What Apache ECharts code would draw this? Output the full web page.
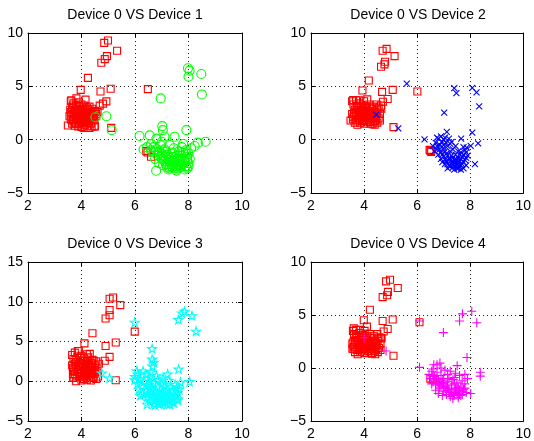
<!DOCTYPE html>
<html>
<head>
<meta charset="utf-8">
<script src="https://cdn.jsdelivr.net/npm/echarts@6/dist/echarts.min.js"></script>
<style>html,body{margin:0;padding:0;background:#fff}#c{width:534px;height:441px}</style>
</head>
<body>
<div id="c"></div>
<script>
// ---- titles & ticks ----
var titles = ['Device 0 VS Device 1', 'Device 0 VS Device 2', 'Device 0 VS Device 3', 'Device 0 VS Device 4'];
var xTicks = [2, 4, 6, 8, 10];
var yRanges = [[-5, 10], [-5, 10], [-5, 15], [-5, 10]];

// ---- Panel 1 ----
var dev0_p1 = [
[4.99,9.29],[4.85,9.07],[5.33,8.33],[4.95,7.83],[4.87,7.55],[4.74,7.21],[4.24,5.79],[5.09,4.77],[4.71,4.52],[3.97,4.67],
[6.48,4.74],[4.93,3.59],[4.15,3.75],[3.81,3.87],[3.62,3.69],[4.68,3.19],[4.80,3.38],[4.55,2.40],[5.11,1.11],[3.49,1.33],
[4.49,1.21],[6.42,-1.07],[6.47,-1.2],[6.6,-1.6],
[3.6,3.6],[3.7,3.4],[3.65,3.0],[3.8,3.2],[3.75,2.8],[3.9,3.1],[3.6,2.6],[3.7,2.4],[3.8,2.5],[3.85,2.2],
[3.95,2.7],[4.0,2.4],[4.05,2.9],[4.1,2.6],[4.15,2.2],[4.2,2.5],[4.25,2.8],[4.3,2.3],[4.35,2.6],[4.4,2.9],
[4.45,2.4],[4.5,2.7],[4.55,2.2],[4.2,3.0],[4.3,3.1],[4.1,3.2],[3.9,3.5],[4.0,3.3],[3.55,2.2],[3.6,1.9],
[3.7,1.7],[3.8,1.9],[3.9,1.8],[4.0,2.0],[4.1,1.9],[4.2,1.7],[4.3,1.9],[4.4,2.0],[3.65,1.5],[3.75,1.3],
[3.9,1.5],[4.0,1.2],[4.1,1.4],[4.2,1.3],[4.3,1.1],[4.35,1.5],[3.85,2.9],[3.7,2.1],[3.95,2.3],[4.05,1.6],
[4.25,2.0],[4.45,1.8],[3.58,2.8],[3.68,3.2],[4.0,2.8],[4.15,2.8],[4.35,2.1],[4.5,1.3],[3.8,1.6],[4.6,2.6],
[4.1,2.1],[3.95,2.0],[3.63,2.35],[3.73,2.65],[3.83,2.05],[3.93,2.45],[4.03,2.15],[4.13,2.35],[4.23,2.15],[4.33,2.45],
[4.43,2.2],[3.78,1.45],[3.88,1.25],[4.08,1.1],[4.18,1.55],[4.28,1.6],[3.68,1.85],[4.38,1.25],[3.98,1.7],[4.48,2.05]
];
var dev1 = [
[7.98,6.69],[8.04,6.47],[8.00,5.91],[8.48,6.16],[8.50,4.24],[6.96,3.87],[4.93,2.20],[4.52,2.10],[5.13,0.89],[7.02,1.27],
[7.04,0.89],[7.92,0.89],[6.17,0.34],[7.48,0.28],[8.64,-0.19],[8.23,-0.59],[8.35,-0.28],[6.32,-0.9],[6.79,-2.91],
[6.6,-0.4],[6.7,-0.7],[6.8,-0.9],[6.9,-1.1],[6.7,-1.2],[6.85,-1.5],[7.0,-1.3],[7.0,-1.8],[7.1,-2.0],[7.15,-1.6],
[7.2,-2.3],[7.3,-2.1],[7.3,-2.5],[7.4,-1.9],[7.4,-2.6],[7.5,-2.2],[7.5,-2.7],[7.6,-2.4],[7.6,-1.8],[7.7,-2.6],
[7.7,-2.1],[7.75,-1.5],[7.8,-2.3],[7.8,-1.2],[7.85,-1.9],[7.9,-2.5],[7.9,-1.0],[7.95,-1.6],[8.0,-2.2],[8.0,-1.3],
[7.2,-1.4],[7.1,-0.9],[6.95,-0.5],[7.05,-2.4],[7.35,-1.3],[7.55,-1.5],[7.65,-1.1],[7.45,-0.8],[6.6,-1.0],[6.75,-1.8],
[6.9,-2.2],[7.25,-2.8],[7.55,-2.9],[7.0,-0.2],[6.8,0.1],[6.55,0.4],[7.1,0.3],[7.3,-0.5],[7.75,-0.7],[7.95,-2.7],
[8.05,-1.8],[7.85,-2.8],[7.35,-1.7],[7.45,-2.3],[7.65,-2.0],[7.25,-1.9],[7.15,-1.1],[6.45,-0.7],[7.8,-0.4],[8.1,-0.8],
[7.05,-1.5],[7.15,-2.3],[7.25,-1.6],[7.35,-2.3],[7.45,-2.0],[7.55,-2.5],[7.65,-2.3],[7.75,-2.4],[7.85,-2.1],[7.95,-1.9],
[7.45,-1.6],[7.6,-2.7],[7.7,-1.8],[7.3,-2.7],[7.4,-1.2],[6.95,-1.6],[6.85,-1.2],[7.2,-2.6],[7.9,-1.3],[8.0,-2.5]
];

// ---- Panel 2 ----
var dev0_p2 = [
[4.85,8.51],[4.70,8.33],[4.79,7.31],[4.77,7.06],[4.64,6.84],[5.15,7.83],[4.18,5.54],[6.01,4.52],[5.08,4.67],[4.68,4.48],
[3.94,4.61],[4.89,3.81],[4.71,3.56],[4.64,3.19],[5.11,1.18],[3.59,3.72],[4.12,3.78],[3.49,1.80],[6.47,-0.96],[6.53,-1.15],[6.5,-1.05],
[3.55,3.6],[3.6,3.3],[3.7,3.7],[3.75,3.0],[3.65,2.8],[3.8,3.4],[3.85,2.6],[3.9,3.2],[3.95,2.9],[4.0,3.6],
[4.05,2.4],[4.1,3.0],[4.15,2.7],[4.2,3.3],[4.25,2.5],[4.3,2.9],[4.35,3.1],[4.4,2.6],[4.45,2.2],[4.5,2.8],
[4.55,3.0],[4.6,2.4],[3.55,2.4],[3.6,2.1],[3.7,1.8],[3.75,2.3],[3.8,2.0],[3.85,1.6],[3.9,2.2],[3.95,1.9],
[4.0,1.5],[4.05,2.1],[4.1,1.7],[4.15,2.3],[4.2,1.9],[4.25,1.5],[4.3,2.1],[4.35,1.7],[4.4,1.4],[4.45,1.9],
[4.5,1.6],[4.55,2.0],[3.65,1.6],[3.75,1.4],[4.6,1.8],[4.0,2.6],[3.9,2.7],[4.2,2.1],[3.7,2.6],[4.1,2.5],
[4.35,2.4],[3.58,1.9],[4.65,2.9],[4.48,3.3],[3.82,3.7],
[3.68,2.25],[3.78,2.75],[3.88,2.35],[3.98,2.25],[4.08,2.75],[4.18,2.45],[4.28,2.25],[4.38,2.05],[4.48,2.45],[3.72,3.15],
[3.92,1.75],[4.02,1.85],[4.12,2.05],[4.22,1.65],[4.32,1.45],[4.42,1.75],[3.82,1.85],[3.62,2.55],[4.05,3.1],[4.25,2.95]
];
var dev2 = [
[5.61,5.26],[5.29,1.05],[4.46,2.35],[7.40,4.83],[7.48,4.37],[8.08,4.86],[8.24,4.43],[8.34,3.13],[7.02,2.54],[7.12,0.74],
[7.66,0.09],[8.08,0.65],[8.30,-0.34],[8.18,-2.29],[6.28,0.03],[8.02,-0.59],[7.87,-0.74],
[6.6,-0.6],[6.7,-0.3],[6.75,-0.9],[6.8,0.1],[6.85,-0.5],[6.9,-1.2],[6.95,-0.2],[7.0,-0.8],[7.0,-1.6],[7.05,0.2],
[7.1,-1.3],[7.1,-2.0],[7.15,-0.6],[7.2,-1.8],[7.2,-2.4],[7.25,-1.1],[7.3,-2.2],[7.3,-1.5],[7.35,-2.6],[7.4,-1.9],
[7.4,-2.8],[7.45,-1.4],[7.5,-2.3],[7.5,-2.7],[7.55,-1.7],[7.6,-2.5],[7.6,-2.0],[7.65,-1.2],[7.7,-2.3],[7.7,-1.6],
[7.75,-2.7],[7.8,-1.9],[7.8,-1.0],[7.85,-2.4],[7.9,-1.5],[6.9,-1.8],[6.8,-1.4],[7.05,-2.3],[7.15,-2.7],[7.25,-0.4],
[7.35,-0.9],[7.45,-0.6],[7.55,-1.1],[6.65,-1.1],[6.95,-2.1],[7.65,-2.8],[7.75,-0.7],[7.85,-1.2],[7.0,0.0],[6.75,0.2],
[7.2,0.1],[7.3,-0.2],[7.1,-0.3],[6.9,0.3],[7.4,-2.1],[7.55,-2.4],[7.6,-1.4],[7.35,-1.7],[7.25,-2.5],[7.5,-1.9],
[6.85,-0.9],[6.95,-1.4],[7.05,-1.1],[7.15,-1.5],[7.25,-1.8],[7.35,-2.1],[7.45,-2.5],[7.55,-2.1],[7.65,-2.4],[7.75,-2.1],
[7.85,-1.7],[7.05,-1.9],[7.15,-2.3],[7.45,-2.0],[7.65,-1.8],[7.35,-2.4],[7.55,-2.7],[7.75,-1.4],[6.75,-0.6],[7.0,-0.5]
];

// ---- Panel 3 ----
var dev0_p3 = [
[5.18,10.54],[5.05,10.37],[5.45,9.58],[5.05,8.96],[5.05,8.30],[4.90,7.90],[5.99,6.24],[4.41,6.04],[5.28,4.88],[4.90,4.43],
[4.11,4.76],[5.05,3.07],[4.31,3.44],[4.87,2.57],[5.28,0.12],[3.69,0.46],[3.86,3.81],
[3.65,3.3],[3.7,2.8],[3.75,3.6],[3.8,2.4],[3.85,3.1],[3.9,3.8],[3.95,2.6],[4.0,3.2],[4.05,2.2],[4.1,2.9],
[4.15,1.9],[4.2,2.5],[4.25,3.0],[4.3,1.7],[4.35,2.3],[4.4,2.7],[4.45,1.4],[4.5,2.0],[4.55,2.5],[4.6,1.6],
[4.65,2.2],[3.65,2.0],[3.7,1.5],[3.75,0.9],[3.8,1.8],[3.85,1.2],[3.9,0.6],[3.95,1.6],[4.0,1.0],[4.05,0.3],
[4.1,1.4],[4.15,0.8],[4.2,0.2],[4.25,1.2],[4.3,0.6],[4.35,0.1],[4.4,1.0],[4.45,0.4],[4.5,0.9],[4.55,0.3],
[3.7,0.4],[3.8,0.0],[4.0,0.1],[4.15,1.7],[3.9,2.1],[4.05,2.6],[4.25,2.0],[3.75,2.2],[4.4,1.8],[4.6,1.1],
[3.68,0.9],[4.1,0.5],[4.3,1.3],[3.95,1.1],[4.45,2.6],[4.2,3.4],
[3.72,1.2],[3.82,0.7],[3.92,1.4],[4.02,0.6],[4.12,1.0],[4.22,0.7],[4.32,0.9],[4.42,0.5],[3.87,1.9],[4.07,1.8],
[4.17,1.3],[4.27,1.6],[4.37,1.4],[3.78,2.7],[3.98,2.3],[4.18,2.2],[4.38,2.1],[3.68,1.7],[4.52,1.4],[4.62,0.6]
];
var dev3 = [
[5.99,7.42],[7.62,7.75],[7.85,8.79],[7.76,8.58],[8.13,8.25],[8.28,6.3],[6.64,4.10],[6.64,2.78],[7.63,1.53],[5.99,0.17],
[8.04,-0.04],[7.70,-0.12],[7.22,0.91],[7.61,-2.2],[4.76,1.04],[5.05,0.41],[6.07,1.33],
[6.0,0.6],[6.1,-0.3],[6.15,-1.0],[6.2,0.3],[6.25,-0.6],[6.3,-1.5],[6.35,0.0],[6.4,-1.1],[6.45,-2.0],[6.5,-0.4],
[6.5,-1.6],[6.55,-2.5],[6.6,-0.9],[6.6,1.2],[6.65,-1.9],[6.7,-2.8],[6.7,-0.2],[6.75,-1.3],[6.8,-2.3],[6.8,0.7],
[6.85,-0.7],[6.9,-1.7],[6.9,-2.9],[6.95,-1.1],[7.0,-2.1],[7.0,-0.3],[7.05,-2.6],[7.1,-1.4],[7.1,-0.6],[7.15,-2.0],
[7.2,-2.9],[7.2,-1.0],[7.25,-2.4],[7.3,-1.6],[7.35,-0.7],[7.4,-2.2],[7.4,-1.2],[7.45,-2.7],[7.5,-1.8],[7.55,-0.9],
[7.6,-2.4],[7.6,-1.4],[6.65,1.9],[6.7,2.4],[6.55,0.5],[6.4,0.9],[6.3,1.3],[6.85,0.2],[7.05,0.4],[6.95,-2.5],
[6.45,-2.9],[6.75,-3.0],[7.3,-2.9],[7.65,-1.0],[6.2,-1.8],[6.1,0.9],[6.55,0.0],[7.25,0.1],[7.5,-0.4],
[6.6,-1.5],[6.7,-1.7],[6.8,-1.9],[6.9,-2.2],[7.0,-2.5],[7.1,-2.3],[7.2,-2.1],[7.3,-2.4],[7.4,-2.6],[6.85,-2.6],
[6.75,-2.4],[6.95,-1.9],[7.05,-1.7],[7.15,-1.2],[6.65,-1.2],[6.55,-0.8],[6.45,-0.5],[7.35,-1.9],[7.15,-2.6],[6.95,-2.8]
];

// ---- Panel 4 ----
var dev0_p4 = [
[4.98,8.33],[4.83,8.17],[5.27,7.55],[4.90,7.18],[4.87,6.87],[4.70,6.69],[4.22,5.5],[6.09,4.32],[5.08,4.57],[4.70,4.44],
[3.99,4.51],[4.89,3.68],[4.74,3.44],[4.64,2.82],[5.11,1.15],[3.56,1.82],[3.61,3.74],[4.11,3.9],[6.5,-1.0],[6.6,-1.1],
[3.58,3.5],[3.62,3.2],[3.7,3.6],[3.72,2.9],[3.66,2.6],[3.82,3.3],[3.88,2.5],[3.92,3.1],[3.98,2.8],[4.02,3.5],
[4.06,2.3],[4.12,3.0],[4.18,2.6],[4.22,3.2],[4.28,2.4],[4.32,2.8],[4.38,3.0],[4.42,2.5],[4.46,2.1],[4.52,2.7],
[4.58,2.9],[4.62,2.3],[3.56,2.3],[3.62,2.0],[3.72,1.7],[3.76,2.2],[3.82,1.9],[3.86,1.5],[3.92,2.1],[3.96,1.8],
[4.02,1.4],[4.06,2.0],[4.12,1.6],[4.16,2.2],[4.22,1.8],[4.26,1.4],[4.32,2.0],[4.36,1.6],[4.42,1.3],[4.46,1.8],
[4.52,1.5],[4.56,1.9],[3.66,1.5],[3.76,1.3],[4.62,1.7],[4.02,2.5],[3.92,2.6],[4.22,2.0],[3.72,2.5],[4.12,2.4],
[4.36,2.3],[3.6,1.8],[4.66,2.8],[4.5,3.2],[3.84,3.6],
[3.67,2.15],[3.77,2.65],[3.87,2.25],[3.97,2.15],[4.07,2.65],[4.17,2.35],[4.27,2.15],[4.37,1.95],[4.47,2.35],[3.7,3.05],
[3.9,1.65],[4.0,1.75],[4.1,1.95],[4.2,1.55],[4.3,1.35],[4.4,1.65],[3.8,1.75],[3.6,2.45],[4.05,3.0],[4.25,2.85]
];
var dev4 = [
[4.0,2.85],[4.83,1.61],[6.09,4.44],[7.71,5.11],[7.60,4.43],[8.06,5.36],[8.25,4.27],[6.99,3.34],[7.88,0.99],[6.09,0.06],
[8.38,-0.40],[8.38,-0.77],[8.02,-2.41],[7.51,0.22],[6.86,0.46],[6.63,0.31],
[6.45,-0.6],[6.5,-1.0],[6.55,-0.3],[6.6,-1.3],[6.65,-0.8],[6.7,-1.6],[6.75,-0.4],[6.8,-1.1],[6.85,-1.9],[6.9,-0.7],
[6.95,-1.5],[7.0,-2.2],[7.0,-1.0],[7.05,-1.8],[7.1,-2.5],[7.15,-1.3],[7.2,-2.0],[7.25,-2.7],[7.3,-1.6],[7.3,-2.3],
[7.35,-1.1],[7.4,-2.6],[7.45,-1.9],[7.5,-2.4],[7.5,-1.4],[7.55,-2.8],[7.6,-2.1],[7.65,-1.7],[7.7,-2.5],[7.7,-1.2],
[7.75,-2.0],[7.8,-1.5],[7.85,-2.3],[7.9,-1.0],[6.6,-0.1],[6.75,0.3],[6.9,0.0],[6.7,-2.1],[6.95,-2.6],[7.15,-0.6],
[7.4,-0.9],[7.6,-0.7],[6.55,-1.5],[7.25,-0.3],[7.05,-0.2],[6.85,-1.3],[7.35,-2.9],[7.2,-1.0],[7.45,-0.5],[7.8,-0.6],
[6.8,-2.4],[7.1,-1.7],[7.55,-1.9],[7.65,-2.6],
[6.6,-0.7],[6.7,-1.0],[6.8,-1.5],[6.9,-1.7],[7.0,-1.4],[7.1,-2.1],[7.2,-2.3],[7.3,-2.0],[7.4,-2.3],[7.5,-2.1],
[7.6,-2.5],[7.7,-2.2],[7.8,-1.9],[7.4,-1.5],[7.25,-2.5],[7.15,-1.9],[6.95,-1.2],[6.75,-1.3],[7.55,-2.6],[7.35,-2.6]
];

var dev0Sets = [dev0_p1, dev0_p2, dev0_p3, dev0_p4];
var otherSets = [dev1, dev2, dev3, dev4];

// ---- styling ----
var FONT = 'Liberation Sans, Arial, Helvetica, sans-serif';
var gridPos = [
  {left: 28, top: 33}, {left: 311, top: 33},
  {left: 28, top: 262}, {left: 311, top: 262}
];
var GW = 214, GH = 160;
var otherStyle = [
  {symbol: 'circle', size: 9, color: '#00ff00'},
  {symbol: 'path://M0,0L10,10M10,0L0,10', size: 6, color: '#0000ff'},
  {symbol: 'path://M50,0L61,35L98,35L68,57L79,91L50,70L21,91L32,57L2,35L39,35Z', size: 9, color: '#00ffff'},
  {symbol: 'path://M5,0L5,10M0,5L10,5', size: 9, color: '#ff00ff'}
];

var grids = [], xAxes = [], yAxes = [], series = [], titleArr = [];
function minusFmt(v) { return String(v).replace('-', '\u2212'); }
for (var i = 0; i < 4; i++) {
  grids.push({left: gridPos[i].left, top: gridPos[i].top, width: GW, height: GH, containLabel: false,
    show: false});
  titleArr.push({text: titles[i], left: gridPos[i].left + GW / 2, top: gridPos[i].top - 25, textAlign: 'center',
    padding: 0,
    textStyle: {fontFamily: FONT, fontSize: 14, fontWeight: 'normal', color: '#000'}});
  var axLine = {show: true, onZero: false, lineStyle: {color: '#000', width: 1}};
  var tick = {show: true, inside: true, length: 4, lineStyle: {color: '#000', width: 1}};
  var split = {show: true, lineStyle: {color: '#222', width: 1, type: [1, 3]}};
  xAxes.push({gridIndex: i, type: 'value', min: xTicks[0], max: xTicks[xTicks.length - 1], interval: 2, position: 'bottom',
    axisLine: axLine, axisTick: tick, splitLine: split,
    axisLabel: {color: '#000', fontFamily: FONT, fontSize: 14, margin: 6, formatter: minusFmt}});
  xAxes.push({gridIndex: i, type: 'value', min: xTicks[0], max: xTicks[xTicks.length - 1], interval: 2, position: 'top',
    axisLine: axLine, axisTick: tick, splitLine: {show: false}, axisLabel: {show: false}});
  yAxes.push({gridIndex: i, type: 'value', min: yRanges[i][0], max: yRanges[i][1], interval: 5, position: 'left',
    axisLine: axLine, axisTick: tick, splitLine: split,
    axisLabel: {color: '#000', fontFamily: FONT, fontSize: 14, margin: 5, formatter: minusFmt}});
  yAxes.push({gridIndex: i, type: 'value', min: yRanges[i][0], max: yRanges[i][1], interval: 5, position: 'right',
    axisLine: axLine, axisTick: tick, splitLine: {show: false}, axisLabel: {show: false}});
  series.push({type: 'scatter', xAxisIndex: 2 * i, yAxisIndex: 2 * i, data: dev0Sets[i],
    symbol: 'rect', symbolSize: 7, silent: true,
    itemStyle: {color: 'transparent', borderColor: '#ff0000', borderWidth: 1.1, opacity: 1}});
  var os = otherStyle[i];
  series.push({type: 'scatter', xAxisIndex: 2 * i, yAxisIndex: 2 * i, data: otherSets[i],
    symbol: os.symbol, symbolSize: os.size, symbolKeepAspect: true, silent: true,
    itemStyle: {color: 'transparent', borderColor: os.color, borderWidth: 1.1, opacity: 1}});
}

var chart = echarts.init(document.getElementById('c'), null, {renderer: 'canvas'});
chart.setOption({
  animation: false,
  backgroundColor: '#fff',
  title: titleArr,
  grid: grids,
  xAxis: xAxes,
  yAxis: yAxes,
  series: series
});
</script>
</body>
</html>
